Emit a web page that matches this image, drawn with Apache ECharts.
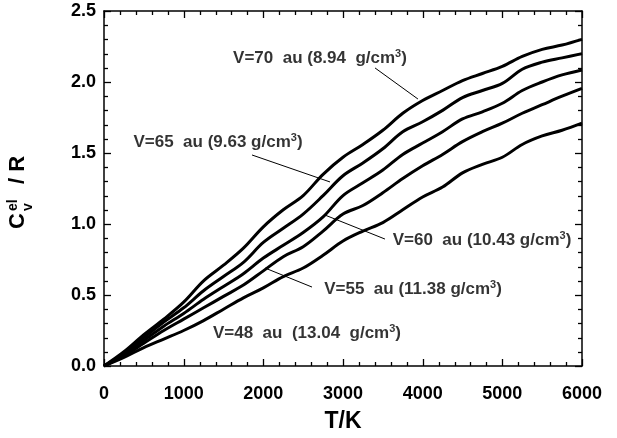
<!DOCTYPE html>
<html>
<head>
<meta charset="utf-8">
<script src="https://cdn.jsdelivr.net/npm/echarts@6/dist/echarts.min.js"></script>
<style>
  html, body { margin: 0; padding: 0; background: #fff; }
  #chart { width: 617px; height: 438px; }
</style>
</head>
<body>
<div id="chart"></div>
<script>
// temperature grid (K)
const temps = [0, 250, 500, 750, 1000, 1250, 1500, 1750, 2000, 2250, 2500, 2750, 3000,
  3250, 3500, 3750, 4000, 4250, 4500, 4750, 5000, 5250, 5500, 5750, 6000];

// Cv_el / R
const cvV70 = [0, 0.10, 0.22, 0.33, 0.45, 0.60, 0.71, 0.83, 0.98, 1.10, 1.20, 1.35, 1.47,
  1.56, 1.66, 1.78, 1.87, 1.94, 2.01, 2.06, 2.11, 2.18, 2.23, 2.26, 2.30];
const cvV65 = [0, 0.09, 0.20, 0.31, 0.41, 0.53, 0.63, 0.73, 0.87, 0.97, 1.07, 1.20, 1.34,
  1.43, 1.53, 1.65, 1.72, 1.80, 1.89, 1.94, 1.99, 2.09, 2.14, 2.17, 2.20];
const cvV60 = [0, 0.08, 0.18, 0.28, 0.37, 0.47, 0.56, 0.65, 0.76, 0.85, 0.94, 1.05, 1.20,
  1.29, 1.38, 1.49, 1.57, 1.65, 1.74, 1.79, 1.85, 1.94, 2.00, 2.05, 2.085];
const cvV55 = [0, 0.07, 0.16, 0.25, 0.33, 0.41, 0.49, 0.57, 0.67, 0.77, 0.84, 0.95, 1.07,
  1.13, 1.22, 1.32, 1.41, 1.49, 1.58, 1.65, 1.71, 1.78, 1.84, 1.90, 1.955];
const cvV48 = [0, 0.06, 0.13, 0.19, 0.25, 0.32, 0.40, 0.48, 0.55, 0.63, 0.69, 0.78, 0.88,
  0.95, 1.01, 1.10, 1.19, 1.26, 1.36, 1.42, 1.47, 1.56, 1.62, 1.66, 1.71];

const seriesNames = ['V=70', 'V=65', 'V=60', 'V=55', 'V=48'];
const seriesValues = [cvV70, cvV65, cvV60, cvV55, cvV48];

// frame ticks (major / minor)
const xMajorTicks = [0, 1000, 2000, 3000, 4000, 5000, 6000];
const yMajorTicks = [0, 0.5, 1.0, 1.5, 2.0, 2.5];
const xMinorStep = 200;
const yMinorStep = 0.1;

// annotations, in data coordinates
const labelTexts = [
  'V=70  au (8.94  g/cm{s|3})',
  'V=65  au (9.63 g/cm{s|3})',
  'V=60  au (10.43 g/cm{s|3})',
  'V=55  au (11.38 g/cm{s|3})',
  'V=48  au  (13.04  g/cm{s|3})'
];
const labelPos = [[2711, 2.169], [1431, 1.577], [4745, 0.887], [3879, 0.542], [2548, 0.232]];
const leaders = [
  [[3402, 2.099], [3941, 1.880]],
  [[1858, 1.486], [2837, 1.296]],
  [[2774, 1.063], [3527, 0.894]],
  [[2021, 0.690], [2611, 0.556]]
];

const font = '"Liberation Sans", Arial, sans-serif';

const chart = echarts.init(document.getElementById('chart'));

function frameAxis(extra) {
  return Object.assign({
    type: 'value',
    axisLine: { show: true, onZero: false, lineStyle: { color: '#000', width: 1.5 } },
    axisTick: { show: false },
    minorTick: { show: false },
    splitLine: { show: false }
  }, extra);
}

const labelFont = { fontFamily: font, fontWeight: 'bold', fontSize: 18, color: '#000' };

const titleGroup = {
  type: 'group', x: 29, y: 229, rotation: Math.PI / 2,
  children: [
    { type: 'text', x: 0, y: 0, style: { text: 'C', font: 'bold 22px ' + font, fill: '#000', textVerticalAlign: 'bottom' } },
    { type: 'text', x: 18, y: -9, style: { text: 'el', font: 'bold 14px ' + font, fill: '#000', textVerticalAlign: 'bottom' } },
    { type: 'text', x: 18, y: 6, style: { text: 'v', font: 'bold 14px ' + font, fill: '#000', textVerticalAlign: 'bottom' } },
    { type: 'text', x: 45, y: 0, style: { text: '/ R', font: 'bold 22px ' + font, fill: '#000', textVerticalAlign: 'bottom' } }
  ]
};

const option = {
  animation: false,
  backgroundColor: '#fff',
  grid: { left: 104, right: 35, top: 11, bottom: 72 },
  xAxis: [
    frameAxis({
      min: 0, max: 6000, interval: 1000,
      name: 'T/K', nameLocation: 'middle', nameGap: 44,
      nameTextStyle: { fontFamily: font, fontWeight: 'bold', fontSize: 23, color: '#000' },
      axisLabel: Object.assign({ margin: 19, formatter: v => String(v) }, labelFont)
    }),
    frameAxis({
      position: 'top', min: 0, max: 6000, interval: 1000,
      axisLabel: { show: false }
    })
  ],
  yAxis: [
    frameAxis({
      min: 0, max: 2.5, interval: 0.5,
      axisLabel: Object.assign({ margin: 8, formatter: v => v.toFixed(1) }, labelFont)
    }),
    frameAxis({
      position: 'right', min: 0, max: 2.5, interval: 0.5,
      axisLabel: { show: false }
    })
  ],
  graphic: [titleGroup],
  series: seriesNames.map((name, i) => ({
    name: name,
    type: 'line',
    data: temps.map((t, j) => [t, seriesValues[i][j]]),
    smooth: 0.35,
    symbol: 'none',
    lineStyle: { color: '#000', width: 3 }
  })).concat([
    {
      name: 'labels',
      type: 'scatter',
      data: labelPos.map((p, i) => ({ value: p, label: { formatter: labelTexts[i] } })),
      symbolSize: 0,
      silent: true,
      label: {
        show: true, position: 'inside',
        fontFamily: font, fontWeight: 'bold', fontSize: 17, color: '#000',
        rich: {
          s: { fontFamily: font, fontWeight: 'bold', fontSize: 11, color: '#000', verticalAlign: 'top', lineHeight: 20 }
        }
      },
      markLine: {
        silent: true,
        symbol: 'none',
        label: { show: false },
        lineStyle: { color: '#000', width: 1, type: 'solid' },
        data: leaders.map(l => [{ coord: l[0] }, { coord: l[1] }])
      }
    }
  ])
};

chart.setOption(option);

// inward ticks on all four sides, placed through the axes' own scales
const tickLines = [];
const xLeft = chart.convertToPixel({ xAxisIndex: 0 }, 0);
const xRight = chart.convertToPixel({ xAxisIndex: 0 }, 6000);
const yBottom = chart.convertToPixel({ yAxisIndex: 0 }, 0);
const yTop = chart.convertToPixel({ yAxisIndex: 0 }, 2.5);

function addTick(x1, y1, x2, y2) {
  tickLines.push({
    type: 'line', silent: true,
    shape: { x1: x1, y1: y1, x2: x2, y2: y2 },
    style: { stroke: '#000', lineWidth: 1.3 }
  });
}

for (let t = 0; t <= 6000; t += xMinorStep) {
  const len = xMajorTicks.includes(t) ? 7 : 4;
  const px = Math.round(chart.convertToPixel({ xAxisIndex: 0 }, t)) + 0.5;
  addTick(px, yBottom, px, yBottom - len);
  addTick(px, yTop, px, yTop + len);
}
for (let k = 0; k <= 25; k++) {
  const v = Math.round(k * yMinorStep * 10) / 10;
  const len = yMajorTicks.includes(v) ? 7 : 4;
  const py = Math.round(chart.convertToPixel({ yAxisIndex: 0 }, v)) + 0.5;
  addTick(xLeft, py, xLeft + len, py);
  addTick(xRight, py, xRight - len, py);
}

chart.setOption({ graphic: [titleGroup].concat(tickLines) });
</script>
</body>
</html>
